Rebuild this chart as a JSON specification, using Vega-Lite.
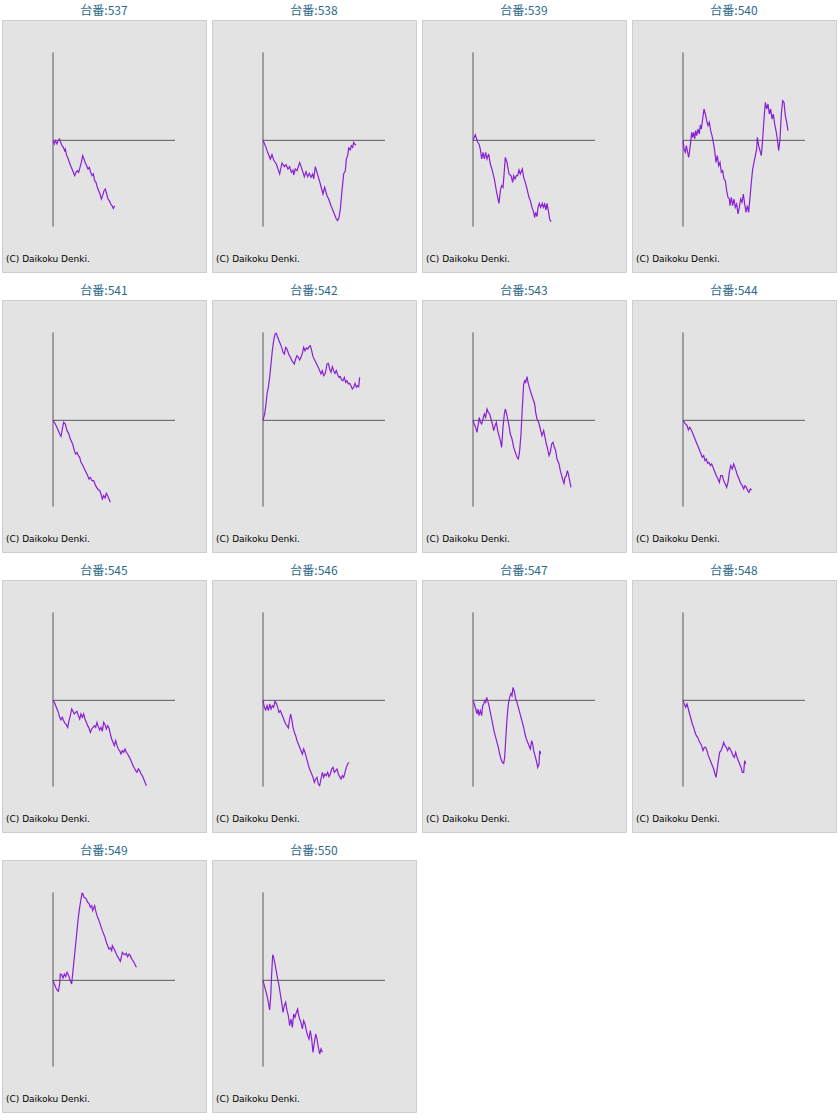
{
  "$schema": "https://vega.github.io/schema/vega-lite/v6.json",
  "padding": {"left": 1, "top": 4, "right": 0, "bottom": 0},
  "background": "white",
  "config": {
    "view": {"fill": "#e3e3e3", "stroke": "#cdcdcd", "strokeWidth": 1},
    "font": "DejaVu Sans"
  },
  "datasets": {
    "slump": [
      {"id":537,"x":0,"y":0},{"id":537,"x":4,"y":-11},{"id":537,"x":7,"y":-1},{"id":537,"x":12,"y":-11},{"id":537,"x":15,"y":-1},{"id":537,"x":19,"y":4},{"id":537,"x":23,"y":-6},{"id":537,"x":27,"y":-16},{"id":537,"x":31,"y":-21},{"id":537,"x":35,"y":-31},{"id":537,"x":37,"y":-26},{"id":537,"x":41,"y":-46},{"id":537,"x":45,"y":-54},{"id":537,"x":49,"y":-66},{"id":537,"x":53,"y":-76},{"id":537,"x":57,"y":-86},{"id":537,"x":61,"y":-96},{"id":537,"x":65,"y":-106},{"id":537,"x":69,"y":-96},{"id":537,"x":73,"y":-91},{"id":537,"x":77,"y":-96},{"id":537,"x":81,"y":-81},{"id":537,"x":85,"y":-66},{"id":537,"x":89,"y":-46},{"id":537,"x":93,"y":-56},{"id":537,"x":97,"y":-68},{"id":537,"x":101,"y":-76},{"id":537,"x":105,"y":-86},{"id":537,"x":109,"y":-81},{"id":537,"x":113,"y":-96},{"id":537,"x":117,"y":-106},{"id":537,"x":121,"y":-101},{"id":537,"x":125,"y":-121},{"id":537,"x":129,"y":-126},{"id":537,"x":133,"y":-141},{"id":537,"x":137,"y":-151},{"id":537,"x":141,"y":-161},{"id":537,"x":145,"y":-176},{"id":537,"x":149,"y":-166},{"id":537,"x":153,"y":-151},{"id":537,"x":157,"y":-146},{"id":537,"x":161,"y":-161},{"id":537,"x":165,"y":-176},{"id":537,"x":169,"y":-181},{"id":537,"x":173,"y":-191},{"id":537,"x":177,"y":-196},{"id":537,"x":181,"y":-204},{"id":537,"x":185,"y":-196},
      {"id":538,"x":0,"y":0},{"id":538,"x":7,"y":-16},{"id":538,"x":14,"y":-36},{"id":538,"x":22,"y":-56},{"id":538,"x":27,"y":-43},{"id":538,"x":32,"y":-59},{"id":538,"x":40,"y":-71},{"id":538,"x":50,"y":-101},{"id":538,"x":57,"y":-68},{"id":538,"x":64,"y":-79},{"id":538,"x":69,"y":-73},{"id":538,"x":75,"y":-86},{"id":538,"x":80,"y":-79},{"id":538,"x":85,"y":-96},{"id":538,"x":90,"y":-89},{"id":538,"x":92,"y":-104},{"id":538,"x":97,"y":-86},{"id":538,"x":102,"y":-91},{"id":538,"x":110,"y":-67},{"id":538,"x":115,"y":-81},{"id":538,"x":120,"y":-96},{"id":538,"x":124,"y":-109},{"id":538,"x":129,"y":-94},{"id":538,"x":134,"y":-109},{"id":538,"x":139,"y":-99},{"id":538,"x":144,"y":-111},{"id":538,"x":149,"y":-101},{"id":538,"x":152,"y":-116},{"id":538,"x":157,"y":-79},{"id":538,"x":162,"y":-96},{"id":538,"x":172,"y":-131},{"id":538,"x":180,"y":-161},{"id":538,"x":185,"y":-141},{"id":538,"x":192,"y":-166},{"id":538,"x":197,"y":-176},{"id":538,"x":204,"y":-196},{"id":538,"x":212,"y":-216},{"id":538,"x":220,"y":-236},{"id":538,"x":224,"y":-241},{"id":538,"x":228,"y":-231},{"id":538,"x":232,"y":-206},{"id":538,"x":237,"y":-151},{"id":538,"x":242,"y":-101},{"id":538,"x":247,"y":-91},{"id":538,"x":250,"y":-56},{"id":538,"x":254,"y":-46},{"id":538,"x":257,"y":-23},{"id":538,"x":262,"y":-29},{"id":538,"x":265,"y":-16},{"id":538,"x":269,"y":-21},{"id":538,"x":272,"y":-6},{"id":538,"x":275,"y":-11},{"id":538,"x":279,"y":-14},
      {"id":539,"x":0,"y":0},{"id":539,"x":7,"y":17},{"id":539,"x":10,"y":7},{"id":539,"x":14,"y":-6},{"id":539,"x":18,"y":-11},{"id":539,"x":22,"y":-26},{"id":539,"x":26,"y":-56},{"id":539,"x":30,"y":-36},{"id":539,"x":34,"y":-56},{"id":539,"x":38,"y":-36},{"id":539,"x":42,"y":-56},{"id":539,"x":47,"y":-41},{"id":539,"x":52,"y":-71},{"id":539,"x":58,"y":-91},{"id":539,"x":64,"y":-116},{"id":539,"x":70,"y":-151},{"id":539,"x":74,"y":-171},{"id":539,"x":78,"y":-189},{"id":539,"x":82,"y":-151},{"id":539,"x":86,"y":-136},{"id":539,"x":90,"y":-141},{"id":539,"x":94,"y":-91},{"id":539,"x":97,"y":-51},{"id":539,"x":102,"y":-66},{"id":539,"x":108,"y":-101},{"id":539,"x":114,"y":-106},{"id":539,"x":119,"y":-126},{"id":539,"x":122,"y":-106},{"id":539,"x":126,"y":-116},{"id":539,"x":130,"y":-106},{"id":539,"x":134,"y":-106},{"id":539,"x":138,"y":-89},{"id":539,"x":142,"y":-101},{"id":539,"x":148,"y":-86},{"id":539,"x":152,"y":-111},{"id":539,"x":157,"y":-126},{"id":539,"x":162,"y":-146},{"id":539,"x":168,"y":-171},{"id":539,"x":172,"y":-181},{"id":539,"x":177,"y":-201},{"id":539,"x":182,"y":-216},{"id":539,"x":185,"y":-231},{"id":539,"x":188,"y":-216},{"id":539,"x":192,"y":-229},{"id":539,"x":195,"y":-201},{"id":539,"x":199,"y":-189},{"id":539,"x":203,"y":-201},{"id":539,"x":208,"y":-189},{"id":539,"x":211,"y":-201},{"id":539,"x":215,"y":-191},{"id":539,"x":219,"y":-209},{"id":539,"x":222,"y":-189},{"id":539,"x":226,"y":-211},{"id":539,"x":230,"y":-236},{"id":539,"x":234,"y":-244},
      {"id":540,"x":0,"y":0},{"id":540,"x":3,"y":-26},{"id":540,"x":7,"y":-36},{"id":540,"x":10,"y":-16},{"id":540,"x":13,"y":-31},{"id":540,"x":17,"y":-51},{"id":540,"x":20,"y":-31},{"id":540,"x":23,"y":-6},{"id":540,"x":26,"y":24},{"id":540,"x":29,"y":9},{"id":540,"x":32,"y":24},{"id":540,"x":35,"y":4},{"id":540,"x":38,"y":29},{"id":540,"x":41,"y":14},{"id":540,"x":45,"y":34},{"id":540,"x":49,"y":19},{"id":540,"x":52,"y":46},{"id":540,"x":55,"y":34},{"id":540,"x":59,"y":64},{"id":540,"x":63,"y":94},{"id":540,"x":67,"y":79},{"id":540,"x":71,"y":59},{"id":540,"x":75,"y":44},{"id":540,"x":79,"y":54},{"id":540,"x":83,"y":29},{"id":540,"x":87,"y":14},{"id":540,"x":91,"y":-6},{"id":540,"x":95,"y":-31},{"id":540,"x":99,"y":-66},{"id":540,"x":103,"y":-46},{"id":540,"x":107,"y":-76},{"id":540,"x":111,"y":-66},{"id":540,"x":115,"y":-96},{"id":540,"x":119,"y":-91},{"id":540,"x":123,"y":-116},{"id":540,"x":127,"y":-121},{"id":540,"x":131,"y":-151},{"id":540,"x":135,"y":-171},{"id":540,"x":139,"y":-176},{"id":540,"x":141,"y":-196},{"id":540,"x":145,"y":-171},{"id":540,"x":149,"y":-196},{"id":540,"x":153,"y":-176},{"id":540,"x":157,"y":-201},{"id":540,"x":161,"y":-191},{"id":540,"x":165,"y":-221},{"id":540,"x":169,"y":-201},{"id":540,"x":173,"y":-176},{"id":540,"x":177,"y":-186},{"id":540,"x":181,"y":-161},{"id":540,"x":185,"y":-191},{"id":540,"x":189,"y":-216},{"id":540,"x":193,"y":-196},{"id":540,"x":197,"y":-216},{"id":540,"x":201,"y":-171},{"id":540,"x":205,"y":-126},{"id":540,"x":209,"y":-86},{"id":540,"x":213,"y":-66},{"id":540,"x":217,"y":-46},{"id":540,"x":221,"y":-26},{"id":540,"x":223,"y":9},{"id":540,"x":227,"y":-16},{"id":540,"x":231,"y":-31},{"id":540,"x":235,"y":-46},{"id":540,"x":239,"y":4},{"id":540,"x":243,"y":64},{"id":540,"x":247,"y":114},{"id":540,"x":251,"y":94},{"id":540,"x":255,"y":109},{"id":540,"x":259,"y":79},{"id":540,"x":263,"y":94},{"id":540,"x":267,"y":64},{"id":540,"x":271,"y":79},{"id":540,"x":275,"y":49},{"id":540,"x":279,"y":29},{"id":540,"x":283,"y":4},{"id":540,"x":287,"y":-31},{"id":540,"x":291,"y":4},{"id":540,"x":295,"y":79},{"id":540,"x":299,"y":119},{"id":540,"x":303,"y":114},{"id":540,"x":307,"y":74},{"id":540,"x":311,"y":54},{"id":540,"x":315,"y":29},
      {"id":541,"x":0,"y":0},{"id":541,"x":7,"y":-11},{"id":541,"x":14,"y":-26},{"id":541,"x":20,"y":-41},{"id":541,"x":24,"y":-48},{"id":541,"x":28,"y":-26},{"id":541,"x":32,"y":-6},{"id":541,"x":37,"y":-11},{"id":541,"x":42,"y":-31},{"id":541,"x":47,"y":-39},{"id":541,"x":52,"y":-56},{"id":541,"x":59,"y":-71},{"id":541,"x":64,"y":-91},{"id":541,"x":68,"y":-101},{"id":541,"x":72,"y":-96},{"id":541,"x":76,"y":-106},{"id":541,"x":80,"y":-111},{"id":541,"x":84,"y":-126},{"id":541,"x":90,"y":-136},{"id":541,"x":97,"y":-151},{"id":541,"x":104,"y":-166},{"id":541,"x":108,"y":-176},{"id":541,"x":112,"y":-171},{"id":541,"x":117,"y":-181},{"id":541,"x":122,"y":-181},{"id":541,"x":128,"y":-196},{"id":541,"x":134,"y":-206},{"id":541,"x":140,"y":-211},{"id":541,"x":144,"y":-221},{"id":541,"x":148,"y":-236},{"id":541,"x":152,"y":-226},{"id":541,"x":156,"y":-233},{"id":541,"x":160,"y":-219},{"id":541,"x":164,"y":-226},{"id":541,"x":168,"y":-236},{"id":541,"x":172,"y":-246},
      {"id":542,"x":0,"y":0},{"id":542,"x":5,"y":19},{"id":542,"x":9,"y":49},{"id":542,"x":12,"y":79},{"id":542,"x":16,"y":99},{"id":542,"x":20,"y":129},{"id":542,"x":24,"y":169},{"id":542,"x":28,"y":209},{"id":542,"x":32,"y":239},{"id":542,"x":36,"y":259},{"id":542,"x":40,"y":261},{"id":542,"x":44,"y":249},{"id":542,"x":50,"y":234},{"id":542,"x":56,"y":219},{"id":542,"x":60,"y":204},{"id":542,"x":64,"y":199},{"id":542,"x":68,"y":219},{"id":542,"x":72,"y":214},{"id":542,"x":77,"y":199},{"id":542,"x":82,"y":189},{"id":542,"x":88,"y":177},{"id":542,"x":94,"y":169},{"id":542,"x":98,"y":184},{"id":542,"x":102,"y":194},{"id":542,"x":106,"y":189},{"id":542,"x":110,"y":181},{"id":542,"x":114,"y":189},{"id":542,"x":118,"y":201},{"id":542,"x":122,"y":219},{"id":542,"x":126,"y":209},{"id":542,"x":130,"y":217},{"id":542,"x":134,"y":214},{"id":542,"x":138,"y":221},{"id":542,"x":142,"y":224},{"id":542,"x":146,"y":209},{"id":542,"x":150,"y":191},{"id":542,"x":156,"y":179},{"id":542,"x":162,"y":167},{"id":542,"x":168,"y":154},{"id":542,"x":174,"y":139},{"id":542,"x":178,"y":149},{"id":542,"x":182,"y":134},{"id":542,"x":187,"y":141},{"id":542,"x":192,"y":169},{"id":542,"x":196,"y":171},{"id":542,"x":200,"y":154},{"id":542,"x":204,"y":144},{"id":542,"x":208,"y":161},{"id":542,"x":212,"y":149},{"id":542,"x":216,"y":141},{"id":542,"x":220,"y":149},{"id":542,"x":224,"y":137},{"id":542,"x":228,"y":129},{"id":542,"x":232,"y":131},{"id":542,"x":236,"y":121},{"id":542,"x":240,"y":119},{"id":542,"x":244,"y":129},{"id":542,"x":248,"y":114},{"id":542,"x":252,"y":119},{"id":542,"x":256,"y":109},{"id":542,"x":260,"y":111},{"id":542,"x":264,"y":104},{"id":542,"x":268,"y":94},{"id":542,"x":272,"y":99},{"id":542,"x":276,"y":111},{"id":542,"x":280,"y":99},{"id":542,"x":284,"y":104},{"id":542,"x":287,"y":101},{"id":542,"x":290,"y":129},
      {"id":543,"x":0,"y":0},{"id":543,"x":4,"y":-11},{"id":543,"x":8,"y":-21},{"id":543,"x":12,"y":-36},{"id":543,"x":16,"y":-11},{"id":543,"x":19,"y":9},{"id":543,"x":22,"y":-6},{"id":543,"x":26,"y":-11},{"id":543,"x":30,"y":4},{"id":543,"x":34,"y":19},{"id":543,"x":38,"y":9},{"id":543,"x":42,"y":34},{"id":543,"x":46,"y":24},{"id":543,"x":50,"y":19},{"id":543,"x":54,"y":4},{"id":543,"x":58,"y":-11},{"id":543,"x":62,"y":-31},{"id":543,"x":66,"y":-16},{"id":543,"x":70,"y":-6},{"id":543,"x":74,"y":-31},{"id":543,"x":78,"y":-46},{"id":543,"x":82,"y":-61},{"id":543,"x":86,"y":-81},{"id":543,"x":90,"y":-21},{"id":543,"x":94,"y":19},{"id":543,"x":97,"y":34},{"id":543,"x":100,"y":24},{"id":543,"x":104,"y":4},{"id":543,"x":108,"y":-16},{"id":543,"x":112,"y":-41},{"id":543,"x":117,"y":-56},{"id":543,"x":122,"y":-81},{"id":543,"x":127,"y":-96},{"id":543,"x":132,"y":-111},{"id":543,"x":136,"y":-116},{"id":543,"x":140,"y":-91},{"id":543,"x":144,"y":-41},{"id":543,"x":148,"y":39},{"id":543,"x":152,"y":109},{"id":543,"x":155,"y":119},{"id":543,"x":158,"y":114},{"id":543,"x":162,"y":131},{"id":543,"x":165,"y":114},{"id":543,"x":169,"y":99},{"id":543,"x":175,"y":79},{"id":543,"x":180,"y":64},{"id":543,"x":185,"y":49},{"id":543,"x":188,"y":24},{"id":543,"x":192,"y":4},{"id":543,"x":197,"y":-6},{"id":543,"x":202,"y":-26},{"id":543,"x":207,"y":-46},{"id":543,"x":212,"y":-31},{"id":543,"x":215,"y":-46},{"id":543,"x":220,"y":-71},{"id":543,"x":224,"y":-86},{"id":543,"x":228,"y":-106},{"id":543,"x":232,"y":-96},{"id":543,"x":236,"y":-71},{"id":543,"x":240,"y":-66},{"id":543,"x":244,"y":-81},{"id":543,"x":248,"y":-91},{"id":543,"x":252,"y":-116},{"id":543,"x":258,"y":-131},{"id":543,"x":262,"y":-151},{"id":543,"x":266,"y":-166},{"id":543,"x":270,"y":-181},{"id":543,"x":273,"y":-189},{"id":543,"x":276,"y":-171},{"id":543,"x":280,"y":-166},{"id":543,"x":283,"y":-151},{"id":543,"x":286,"y":-161},{"id":543,"x":290,"y":-181},{"id":543,"x":294,"y":-201},
      {"id":544,"x":0,"y":0},{"id":544,"x":6,"y":-9},{"id":544,"x":12,"y":-16},{"id":544,"x":16,"y":-29},{"id":544,"x":20,"y":-21},{"id":544,"x":25,"y":-29},{"id":544,"x":30,"y":-41},{"id":544,"x":36,"y":-56},{"id":544,"x":42,"y":-71},{"id":544,"x":47,"y":-83},{"id":544,"x":52,"y":-96},{"id":544,"x":58,"y":-111},{"id":544,"x":62,"y":-106},{"id":544,"x":66,"y":-121},{"id":544,"x":70,"y":-116},{"id":544,"x":74,"y":-129},{"id":544,"x":78,"y":-126},{"id":544,"x":82,"y":-136},{"id":544,"x":86,"y":-131},{"id":544,"x":90,"y":-141},{"id":544,"x":94,"y":-151},{"id":544,"x":100,"y":-166},{"id":544,"x":105,"y":-176},{"id":544,"x":109,"y":-186},{"id":544,"x":113,"y":-166},{"id":544,"x":118,"y":-166},{"id":544,"x":122,"y":-181},{"id":544,"x":127,"y":-191},{"id":544,"x":131,"y":-201},{"id":544,"x":135,"y":-186},{"id":544,"x":139,"y":-156},{"id":544,"x":143,"y":-136},{"id":544,"x":148,"y":-146},{"id":544,"x":152,"y":-131},{"id":544,"x":156,"y":-141},{"id":544,"x":162,"y":-161},{"id":544,"x":168,"y":-176},{"id":544,"x":174,"y":-191},{"id":544,"x":178,"y":-196},{"id":544,"x":182,"y":-206},{"id":544,"x":186,"y":-196},{"id":544,"x":190,"y":-201},{"id":544,"x":194,"y":-211},{"id":544,"x":198,"y":-216},{"id":544,"x":202,"y":-206},{"id":544,"x":206,"y":-209},
      {"id":545,"x":0,"y":0},{"id":545,"x":4,"y":-6},{"id":545,"x":8,"y":-16},{"id":545,"x":12,"y":-26},{"id":545,"x":16,"y":-36},{"id":545,"x":20,"y":-51},{"id":545,"x":24,"y":-59},{"id":545,"x":28,"y":-51},{"id":545,"x":32,"y":-61},{"id":545,"x":36,"y":-69},{"id":545,"x":40,"y":-73},{"id":545,"x":44,"y":-81},{"id":545,"x":48,"y":-61},{"id":545,"x":52,"y":-46},{"id":545,"x":56,"y":-26},{"id":545,"x":60,"y":-33},{"id":545,"x":64,"y":-41},{"id":545,"x":68,"y":-36},{"id":545,"x":72,"y":-33},{"id":545,"x":76,"y":-46},{"id":545,"x":80,"y":-56},{"id":545,"x":84,"y":-41},{"id":545,"x":88,"y":-51},{"id":545,"x":92,"y":-41},{"id":545,"x":96,"y":-56},{"id":545,"x":100,"y":-66},{"id":545,"x":104,"y":-76},{"id":545,"x":108,"y":-83},{"id":545,"x":112,"y":-96},{"id":545,"x":116,"y":-86},{"id":545,"x":120,"y":-81},{"id":545,"x":124,"y":-76},{"id":545,"x":128,"y":-81},{"id":545,"x":132,"y":-66},{"id":545,"x":136,"y":-79},{"id":545,"x":140,"y":-89},{"id":545,"x":144,"y":-81},{"id":545,"x":148,"y":-93},{"id":545,"x":152,"y":-66},{"id":545,"x":156,"y":-73},{"id":545,"x":160,"y":-86},{"id":545,"x":164,"y":-76},{"id":545,"x":168,"y":-83},{"id":545,"x":172,"y":-101},{"id":545,"x":176,"y":-116},{"id":545,"x":180,"y":-126},{"id":545,"x":184,"y":-136},{"id":545,"x":188,"y":-121},{"id":545,"x":192,"y":-136},{"id":545,"x":196,"y":-146},{"id":545,"x":200,"y":-151},{"id":545,"x":204,"y":-161},{"id":545,"x":208,"y":-151},{"id":545,"x":212,"y":-156},{"id":545,"x":216,"y":-146},{"id":545,"x":220,"y":-156},{"id":545,"x":224,"y":-161},{"id":545,"x":228,"y":-169},{"id":545,"x":232,"y":-176},{"id":545,"x":236,"y":-186},{"id":545,"x":240,"y":-196},{"id":545,"x":244,"y":-203},{"id":545,"x":248,"y":-211},{"id":545,"x":252,"y":-216},{"id":545,"x":256,"y":-206},{"id":545,"x":260,"y":-211},{"id":545,"x":264,"y":-221},{"id":545,"x":268,"y":-226},{"id":545,"x":272,"y":-236},{"id":545,"x":276,"y":-246},{"id":545,"x":280,"y":-256},
      {"id":546,"x":0,"y":0},{"id":546,"x":4,"y":-21},{"id":546,"x":8,"y":-29},{"id":546,"x":12,"y":-16},{"id":546,"x":16,"y":-31},{"id":546,"x":20,"y":-11},{"id":546,"x":24,"y":-26},{"id":546,"x":28,"y":-16},{"id":546,"x":32,"y":-21},{"id":546,"x":36,"y":-3},{"id":546,"x":40,"y":-9},{"id":546,"x":44,"y":-21},{"id":546,"x":48,"y":-36},{"id":546,"x":52,"y":-31},{"id":546,"x":56,"y":-41},{"id":546,"x":60,"y":-51},{"id":546,"x":64,"y":-61},{"id":546,"x":68,"y":-71},{"id":546,"x":72,"y":-76},{"id":546,"x":76,"y":-83},{"id":546,"x":80,"y":-56},{"id":546,"x":83,"y":-41},{"id":546,"x":87,"y":-61},{"id":546,"x":90,"y":-81},{"id":546,"x":94,"y":-96},{"id":546,"x":98,"y":-106},{"id":546,"x":102,"y":-121},{"id":546,"x":106,"y":-131},{"id":546,"x":110,"y":-141},{"id":546,"x":114,"y":-151},{"id":546,"x":118,"y":-161},{"id":546,"x":122,"y":-146},{"id":546,"x":126,"y":-156},{"id":546,"x":130,"y":-171},{"id":546,"x":134,"y":-186},{"id":546,"x":138,"y":-201},{"id":546,"x":142,"y":-211},{"id":546,"x":146,"y":-221},{"id":546,"x":150,"y":-231},{"id":546,"x":154,"y":-246},{"id":546,"x":158,"y":-236},{"id":546,"x":162,"y":-231},{"id":546,"x":166,"y":-251},{"id":546,"x":170,"y":-256},{"id":546,"x":174,"y":-236},{"id":546,"x":178,"y":-216},{"id":546,"x":182,"y":-231},{"id":546,"x":186,"y":-221},{"id":546,"x":190,"y":-226},{"id":546,"x":194,"y":-216},{"id":546,"x":198,"y":-229},{"id":546,"x":202,"y":-221},{"id":546,"x":206,"y":-206},{"id":546,"x":210,"y":-201},{"id":546,"x":214,"y":-216},{"id":546,"x":218,"y":-211},{"id":546,"x":222,"y":-206},{"id":546,"x":226,"y":-221},{"id":546,"x":230,"y":-229},{"id":546,"x":234,"y":-236},{"id":546,"x":238,"y":-226},{"id":546,"x":242,"y":-231},{"id":546,"x":246,"y":-216},{"id":546,"x":250,"y":-201},{"id":546,"x":254,"y":-191},{"id":546,"x":258,"y":-186},
      {"id":547,"x":0,"y":0},{"id":547,"x":4,"y":-11},{"id":547,"x":8,"y":-26},{"id":547,"x":12,"y":-41},{"id":547,"x":15,"y":-26},{"id":547,"x":18,"y":-46},{"id":547,"x":22,"y":-31},{"id":547,"x":26,"y":-46},{"id":547,"x":29,"y":-16},{"id":547,"x":32,"y":-11},{"id":547,"x":35,"y":-1},{"id":547,"x":38,"y":-6},{"id":547,"x":41,"y":9},{"id":547,"x":44,"y":-1},{"id":547,"x":48,"y":-16},{"id":547,"x":52,"y":-36},{"id":547,"x":56,"y":-56},{"id":547,"x":60,"y":-76},{"id":547,"x":64,"y":-96},{"id":547,"x":68,"y":-111},{"id":547,"x":72,"y":-126},{"id":547,"x":76,"y":-141},{"id":547,"x":80,"y":-161},{"id":547,"x":84,"y":-176},{"id":547,"x":88,"y":-186},{"id":547,"x":92,"y":-189},{"id":547,"x":95,"y":-171},{"id":547,"x":98,"y":-121},{"id":547,"x":102,"y":-56},{"id":547,"x":106,"y":-11},{"id":547,"x":110,"y":9},{"id":547,"x":114,"y":21},{"id":547,"x":117,"y":14},{"id":547,"x":120,"y":39},{"id":547,"x":124,"y":27},{"id":547,"x":128,"y":4},{"id":547,"x":132,"y":-6},{"id":547,"x":136,"y":-21},{"id":547,"x":140,"y":-36},{"id":547,"x":144,"y":-51},{"id":547,"x":148,"y":-66},{"id":547,"x":152,"y":-81},{"id":547,"x":156,"y":-101},{"id":547,"x":160,"y":-116},{"id":547,"x":164,"y":-126},{"id":547,"x":168,"y":-136},{"id":547,"x":172,"y":-146},{"id":547,"x":176,"y":-121},{"id":547,"x":179,"y":-131},{"id":547,"x":182,"y":-151},{"id":547,"x":186,"y":-166},{"id":547,"x":190,"y":-181},{"id":547,"x":194,"y":-201},{"id":547,"x":198,"y":-191},{"id":547,"x":200,"y":-151},{"id":547,"x":203,"y":-161},
      {"id":548,"x":0,"y":0},{"id":548,"x":4,"y":-11},{"id":548,"x":8,"y":-21},{"id":548,"x":12,"y":-11},{"id":548,"x":16,"y":-26},{"id":548,"x":20,"y":-41},{"id":548,"x":24,"y":-56},{"id":548,"x":28,"y":-71},{"id":548,"x":32,"y":-81},{"id":548,"x":36,"y":-96},{"id":548,"x":40,"y":-106},{"id":548,"x":44,"y":-111},{"id":548,"x":48,"y":-121},{"id":548,"x":52,"y":-129},{"id":548,"x":56,"y":-136},{"id":548,"x":60,"y":-151},{"id":548,"x":64,"y":-141},{"id":548,"x":68,"y":-141},{"id":548,"x":72,"y":-151},{"id":548,"x":76,"y":-166},{"id":548,"x":80,"y":-176},{"id":548,"x":84,"y":-186},{"id":548,"x":88,"y":-196},{"id":548,"x":92,"y":-206},{"id":548,"x":96,"y":-221},{"id":548,"x":99,"y":-231},{"id":548,"x":102,"y":-211},{"id":548,"x":106,"y":-181},{"id":548,"x":110,"y":-156},{"id":548,"x":114,"y":-151},{"id":548,"x":118,"y":-141},{"id":548,"x":122,"y":-126},{"id":548,"x":126,"y":-136},{"id":548,"x":130,"y":-141},{"id":548,"x":134,"y":-151},{"id":548,"x":138,"y":-141},{"id":548,"x":142,"y":-146},{"id":548,"x":146,"y":-156},{"id":548,"x":150,"y":-166},{"id":548,"x":154,"y":-171},{"id":548,"x":158,"y":-156},{"id":548,"x":162,"y":-171},{"id":548,"x":166,"y":-181},{"id":548,"x":170,"y":-191},{"id":548,"x":174,"y":-201},{"id":548,"x":178,"y":-216},{"id":548,"x":182,"y":-216},{"id":548,"x":185,"y":-181},{"id":548,"x":188,"y":-191},
      {"id":549,"x":0,"y":0},{"id":549,"x":4,"y":-11},{"id":549,"x":8,"y":-21},{"id":549,"x":12,"y":-29},{"id":549,"x":16,"y":-33},{"id":549,"x":20,"y":-11},{"id":549,"x":22,"y":19},{"id":549,"x":26,"y":17},{"id":549,"x":30,"y":7},{"id":549,"x":34,"y":19},{"id":549,"x":38,"y":11},{"id":549,"x":42,"y":24},{"id":549,"x":46,"y":17},{"id":549,"x":50,"y":4},{"id":549,"x":54,"y":-6},{"id":549,"x":56,"y":-11},{"id":549,"x":60,"y":29},{"id":549,"x":64,"y":69},{"id":549,"x":68,"y":109},{"id":549,"x":72,"y":149},{"id":549,"x":76,"y":189},{"id":549,"x":80,"y":219},{"id":549,"x":84,"y":244},{"id":549,"x":87,"y":261},{"id":549,"x":90,"y":259},{"id":549,"x":93,"y":249},{"id":549,"x":97,"y":247},{"id":549,"x":100,"y":244},{"id":549,"x":104,"y":234},{"id":549,"x":108,"y":231},{"id":549,"x":112,"y":219},{"id":549,"x":116,"y":224},{"id":549,"x":119,"y":209},{"id":549,"x":122,"y":217},{"id":549,"x":125,"y":224},{"id":549,"x":128,"y":209},{"id":549,"x":132,"y":194},{"id":549,"x":136,"y":184},{"id":549,"x":140,"y":174},{"id":549,"x":144,"y":161},{"id":549,"x":148,"y":149},{"id":549,"x":152,"y":139},{"id":549,"x":156,"y":129},{"id":549,"x":160,"y":114},{"id":549,"x":164,"y":104},{"id":549,"x":168,"y":94},{"id":549,"x":172,"y":97},{"id":549,"x":176,"y":89},{"id":549,"x":178,"y":104},{"id":549,"x":182,"y":97},{"id":549,"x":186,"y":89},{"id":549,"x":190,"y":79},{"id":549,"x":194,"y":71},{"id":549,"x":198,"y":64},{"id":549,"x":202,"y":57},{"id":549,"x":206,"y":74},{"id":549,"x":208,"y":84},{"id":549,"x":212,"y":79},{"id":549,"x":216,"y":77},{"id":549,"x":220,"y":81},{"id":549,"x":224,"y":71},{"id":549,"x":228,"y":79},{"id":549,"x":232,"y":74},{"id":549,"x":236,"y":64},{"id":549,"x":240,"y":59},{"id":549,"x":244,"y":51},{"id":549,"x":248,"y":44},{"id":549,"x":250,"y":39},
      {"id":550,"x":0,"y":0},{"id":550,"x":4,"y":-16},{"id":550,"x":8,"y":-31},{"id":550,"x":12,"y":-46},{"id":550,"x":16,"y":-66},{"id":550,"x":20,"y":-89},{"id":550,"x":23,"y":-51},{"id":550,"x":26,"y":19},{"id":550,"x":29,"y":77},{"id":550,"x":32,"y":69},{"id":550,"x":36,"y":49},{"id":550,"x":40,"y":27},{"id":550,"x":44,"y":4},{"id":550,"x":48,"y":-16},{"id":550,"x":52,"y":-41},{"id":550,"x":56,"y":-66},{"id":550,"x":60,"y":-96},{"id":550,"x":64,"y":-76},{"id":550,"x":68,"y":-66},{"id":550,"x":72,"y":-91},{"id":550,"x":76,"y":-106},{"id":550,"x":80,"y":-136},{"id":550,"x":84,"y":-116},{"id":550,"x":88,"y":-141},{"id":550,"x":92,"y":-101},{"id":550,"x":96,"y":-111},{"id":550,"x":100,"y":-96},{"id":550,"x":104,"y":-86},{"id":550,"x":107,"y":-106},{"id":550,"x":110,"y":-116},{"id":550,"x":114,"y":-126},{"id":550,"x":118,"y":-146},{"id":550,"x":122,"y":-121},{"id":550,"x":126,"y":-131},{"id":550,"x":130,"y":-151},{"id":550,"x":134,"y":-166},{"id":550,"x":138,"y":-176},{"id":550,"x":142,"y":-151},{"id":550,"x":146,"y":-176},{"id":550,"x":150,"y":-216},{"id":550,"x":154,"y":-186},{"id":550,"x":158,"y":-161},{"id":550,"x":162,"y":-176},{"id":550,"x":166,"y":-201},{"id":550,"x":170,"y":-221},{"id":550,"x":174,"y":-206},{"id":550,"x":178,"y":-216}
    ]
  },
  "data": {"name": "slump"},
  "transform": [{"calculate": "'台番:' + datum.id", "as": "machine"}],
  "facet": {
    "field": "machine",
    "type": "nominal",
    "header": {
      "title": null,
      "labelFont": "Noto Sans CJK JP",
      "labelFontSize": 12,
      "labelColor": "#2e6a8a",
      "labelPadding": 2
    }
  },
  "columns": 4,
  "spacing": {"row": 11, "column": 4},
  "spec": {
    "width": 204,
    "height": 252,
    "encoding": {
      "x": {"field": "x", "type": "quantitative", "scale": {"domain": [-153, 459], "nice": false, "zero": false}, "axis": null},
      "y": {"field": "y", "type": "quantitative", "scale": {"domain": [-395, 361], "nice": false, "zero": false}, "axis": null}
    },
    "layer": [
      {
        "transform": [{"filter": "datum.x == 0"}],
        "mark": {"type": "rule", "color": "#595959", "strokeWidth": 1},
        "encoding": {
          "x": {"datum": 0},
          "y": {"datum": -259},
          "y2": {"datum": 264}
        }
      },
      {
        "transform": [{"filter": "datum.x == 0"}],
        "mark": {"type": "rule", "color": "#595959", "strokeWidth": 1},
        "encoding": {
          "x": {"datum": 0},
          "x2": {"datum": 366},
          "y": {"datum": 0}
        }
      },
      {
        "transform": [{"filter": "datum.x == 0"}],
        "mark": {"type": "text", "text": "(C) Daikoku Denki.", "align": "left", "baseline": "middle", "font": "DejaVu Sans", "fontSize": 9, "color": "#000000"},
        "encoding": {
          "x": {"datum": -141},
          "y": {"datum": -357}
        }
      },
      {
        "mark": {"type": "line", "color": "#8a1fd6", "strokeWidth": 1.2}
      }
    ]
  }
}
